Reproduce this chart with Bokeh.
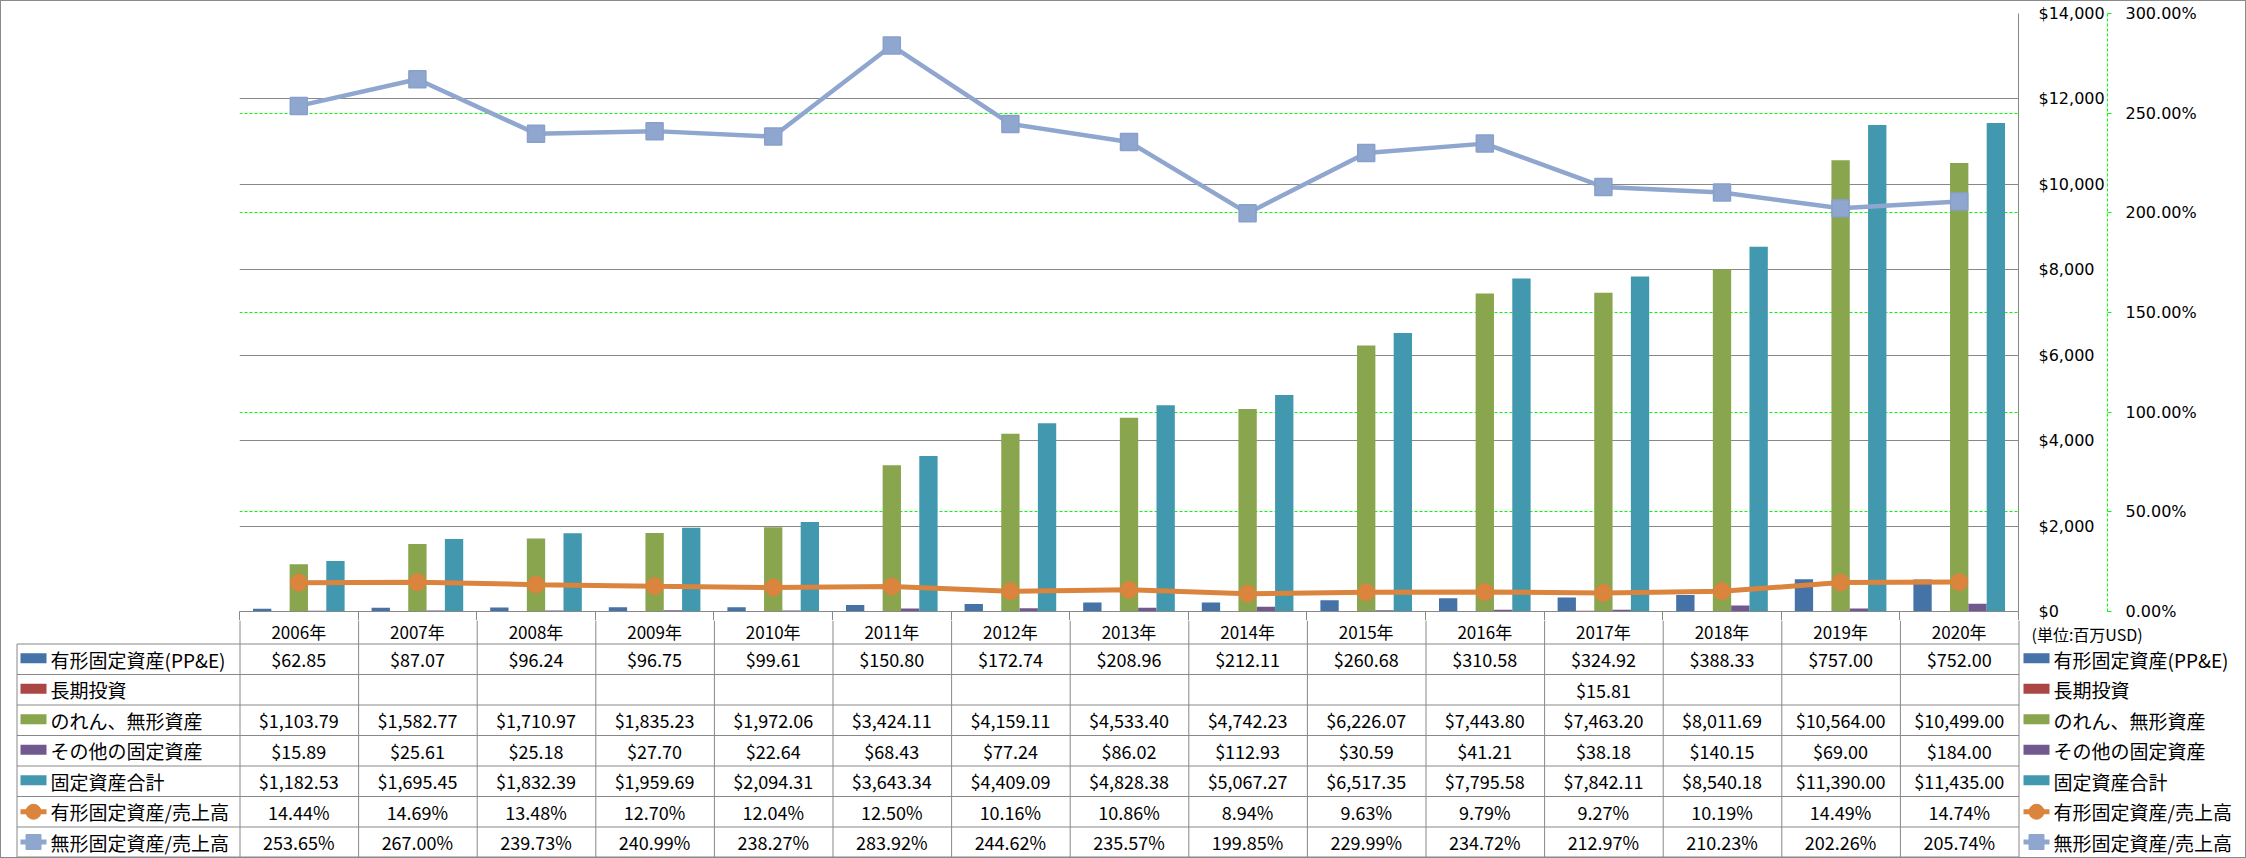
import math
from bokeh.plotting import figure
from bokeh.models import (Range1d, LinearAxis, FixedTicker,
                          NumeralTickFormatter, Grid, ColumnDataSource)
from bokeh.transform import dodge
from bokeh.layouts import column
from bokeh.embed import file_html
from bokeh.resources import INLINE
from bokeh.core.properties import value

NAN = float("nan")

# ---------------- data ----------------
years = ["2006年", "2007年", "2008年", "2009年", "2010年", "2011年", "2012年", "2013年",
         "2014年", "2015年", "2016年", "2017年", "2018年", "2019年", "2020年"]
ppe = [62.85, 87.07, 96.24, 96.75, 99.61, 150.80, 172.74, 208.96, 212.11, 260.68,
       310.58, 324.92, 388.33, 757.00, 752.00]
lt_invest = [NAN, NAN, NAN, NAN, NAN, NAN, NAN, NAN, NAN, NAN, NAN, 15.81, NAN, NAN, NAN]
goodwill = [1103.79, 1582.77, 1710.97, 1835.23, 1972.06, 3424.11, 4159.11, 4533.40,
            4742.23, 6226.07, 7443.80, 7463.20, 8011.69, 10564.00, 10499.00]
other = [15.89, 25.61, 25.18, 27.70, 22.64, 68.43, 77.24, 86.02, 112.93, 30.59,
         41.21, 38.18, 140.15, 69.00, 184.00]
total = [1182.53, 1695.45, 1832.39, 1959.69, 2094.31, 3643.34, 4409.09, 4828.38,
         5067.27, 6517.35, 7795.58, 7842.11, 8540.18, 11390.00, 11435.00]
ppe_ratio = [14.44, 14.69, 13.48, 12.70, 12.04, 12.50, 10.16, 10.86, 8.94, 9.63,
             9.79, 9.27, 10.19, 14.49, 14.74]
intang_ratio = [253.65, 267.00, 239.73, 240.99, 238.27, 283.92, 244.62, 235.57,
                199.85, 229.99, 234.72, 212.97, 210.23, 202.26, 205.74]

series_names = ["有形固定資産(PP&E)", "長期投資", "のれん、無形資産", "その他の固定資産",
                "固定資産合計", "有形固定資産/売上高", "無形固定資産/売上高"]
usd_ticks = [0, 2000, 4000, 6000, 8000, 10000, 12000, 14000]
pct_ticks = [0.0, 0.5, 1.0, 1.5, 2.0, 2.5, 3.0]
unit_text = "(単位:百万USD)"

# ---------------- style ----------------
C_PPE, C_LT, C_GW, C_OTH, C_TOT = "#4572A7", "#AA4643", "#89A54E", "#71588F", "#4198AF"
C_R1, C_R2 = "#DB843D", "#8FA6CF"
GRAY = "#888888"
GREEN = "#00FF00"
CJK = "Noto Sans CJK JP"

W = 2244
FL, FR = 238, 2017          # frame left/right (canvas px)
FT, FB = 12, 610            # frame top/bottom (canvas px)
H1 = 619                    # chart canvas height (9 px below the frame)
H2 = 856 - H1               # table canvas height
NCAT = len(years)
CW = (FR - FL) / NCAT

# category positions (centre of each category slot on a 0..N axis)
xpos = [i + 0.5 for i in range(NCAT)]

# ---------------- chart figure ----------------
p1 = figure(width=W, height=H1,
            x_range=Range1d(0, NCAT), y_range=Range1d(0, usd_ticks[-1]),
            extra_y_ranges={"pct": Range1d(0, pct_ticks[-1])},
            x_axis_location=None, y_axis_location=None,
            toolbar_location=None, output_backend="svg",
            min_border_left=FL, min_border_right=W - FR,
            min_border_top=FT, min_border_bottom=H1 - FB,
            outline_line_color=None, background_fill_color="white",
            border_fill_color="white")
p1.frame_align = False
p1.grid.visible = False

src = ColumnDataSource(dict(x=xpos, ppe=ppe, lt=lt_invest, gw=goodwill, oth=other,
                            tot=total,
                            r1=[v / 100 for v in ppe_ratio],
                            r2=[v / 100 for v in intang_ratio]))

# grids
p1.add_layout(Grid(dimension=1, ticker=FixedTicker(ticks=usd_ticks[1:]),
                   grid_line_color=GRAY, grid_line_width=1))
p1.add_layout(Grid(dimension=1, y_range_name="pct",
                   ticker=FixedTicker(ticks=pct_ticks[1:-1]),
                   grid_line_color=GREEN, grid_line_dash="3 2", grid_line_width=1))

bw = 0.1545
bars = [("ppe", C_PPE), ("lt", C_LT), ("gw", C_GW), ("oth", C_OTH), ("tot", C_TOT)]
for k, (col, colr) in enumerate(bars):
    p1.vbar(x=dodge("x", (k - 2) * bw), top=col, bottom=0,
            width=bw, source=src, fill_color=colr, line_color=None)

p1.line(x="x", y="r1", y_range_name="pct", source=src, line_color=C_R1, line_width=5)
p1.scatter(x="x", y="r1", y_range_name="pct", source=src, marker="circle", size=17,
           fill_color=C_R1, line_color=C_R1)
p1.line(x="x", y="r2", y_range_name="pct", source=src, line_color=C_R2, line_width=4.5)
p1.scatter(x="x", y="r2", y_range_name="pct", source=src, marker="square", size=17,
           fill_color=C_R2, line_color="#88A0CA", line_width=1.5)

# bottom category axis line with the (upper part of the) column dividers
xax = LinearAxis(ticker=FixedTicker(ticks=[], minor_ticks=list(range(NCAT + 1))),
                 axis_line_color=GRAY, major_tick_line_color=None,
                 major_tick_out=0, major_tick_in=0,
                 minor_tick_line_color=GRAY, minor_tick_out=H1 - FB, minor_tick_in=0,
                 major_label_standoff=0, major_label_text_font_size="0px")
p1.add_layout(xax, "below")

# right axes
ax_usd = LinearAxis(ticker=FixedTicker(ticks=usd_ticks),
                    formatter=NumeralTickFormatter(format="$0,0"),
                    axis_line_color=GRAY, major_tick_line_color=None,
                    minor_tick_line_color=None, major_tick_out=0, major_tick_in=0,
                    major_label_standoff=20,
                    major_label_text_font="DejaVu Sans", major_label_text_font_size="16px",
                    major_label_text_color="black")
p1.add_layout(ax_usd, "right")
ax_pct = LinearAxis(y_range_name="pct", ticker=FixedTicker(ticks=pct_ticks),
                    formatter=NumeralTickFormatter(format="0.00%"),
                    axis_line_color=GREEN, axis_line_dash="3 2",
                    major_tick_line_color=GREEN, major_tick_out=4, major_tick_in=0,
                    minor_tick_line_color=None, major_label_standoff=14,
                    major_label_text_font="DejaVu Sans", major_label_text_font_size="16px",
                    major_label_text_color="black")
p1.add_layout(ax_pct, "right")

# ---------------- data table figure (pixel layout, y downwards) ----------------
p2 = figure(width=W, height=H2, x_range=Range1d(0, W), y_range=Range1d(H2, 0),
            x_axis_location=None, y_axis_location=None,
            toolbar_location=None, output_backend="svg",
            min_border_left=0, min_border_right=0, min_border_top=0, min_border_bottom=0,
            outline_line_color=None, background_fill_color="white",
            border_fill_color="white")
p2.frame_align = False
p2.grid.visible = False

HDR_BOTTOM = 23.5            # bottom of the year header row
ROWH = 30.5
edges = [HDR_BOTTOM + ROWH * k for k in range(8)]
edges[-1] = H2 - 0.5
TL = 15.5
xb = [FL + 0.5 + i * CW for i in range(NCAT + 1)]
xc = [FL + (i + 0.5) * CW for i in range(NCAT)]

# horizontal lines
p2.segment(x0=[TL] * len(edges), y0=edges, x1=[xb[-1]] * len(edges), y1=edges,
           line_color=GRAY, line_width=1)
# vertical lines
p2.segment(x0=xb, y0=[0] * len(xb), x1=xb, y1=[edges[-1]] * len(xb),
           line_color=GRAY, line_width=1)
p2.segment(x0=[TL], y0=[edges[0]], x1=[TL], y1=[edges[-1]],
           line_color=GRAY, line_width=1)

# header row (years)
p2.text(x=xc, y=[11] * NCAT, text=years, text_align="center",
        text_baseline="middle", text_font=value(CJK), text_font_size=value("17px"),
        text_color="black")
# unit note under the value axis
p2.text(x=[FR + 13], y=[13], text=[unit_text], text_align="left",
        text_baseline="middle", text_font=value(CJK), text_font_size=value("16px"),
        text_color="black")


def fmt_usd(v):
    return "" if (v is None or (isinstance(v, float) and math.isnan(v))) else f"${v:,.2f}"


def fmt_pct(v):
    return f"{v:.2f}%"


rows = [[fmt_usd(v) for v in ppe], [fmt_usd(v) for v in lt_invest],
        [fmt_usd(v) for v in goodwill], [fmt_usd(v) for v in other],
        [fmt_usd(v) for v in total], [fmt_pct(v) for v in ppe_ratio],
        [fmt_pct(v) for v in intang_ratio]]
centers = [(edges[k] + edges[k + 1]) / 2 for k in range(7)]

tx, ty, tt = [], [], []
for r, vals in enumerate(rows):
    for i, s in enumerate(vals):
        tx.append(xc[i])
        ty.append(centers[r])
        tt.append(s)
p2.text(x=tx, y=ty, text=tt, text_align="center", text_baseline="middle",
        text_font=value(CJK), text_font_size=value("18px"), text_color="black")

colors = [C_PPE, C_LT, C_GW, C_OTH, C_TOT, C_R1, C_R2]
for sx0, tx0 in [(19, 49), (FR + 5, FR + 35)]:
    for k in range(5):
        p2.rect(x=sx0 + 13, y=centers[k] - 1, width=26, height=10,
                fill_color=colors[k], line_color=None)
    for k, mk in [(5, "circle"), (6, "square")]:
        p2.segment(x0=sx0, y0=centers[k], x1=sx0 + 26, y1=centers[k],
                   line_color=colors[k], line_width=5)
        p2.scatter(x=sx0 + 13, y=centers[k], marker=mk, size=15,
                   fill_color=colors[k], line_color=colors[k])
    p2.text(x=[tx0] * 7, y=centers, text=series_names, text_align="left",
            text_baseline="middle", text_font=value(CJK), text_font_size=value("19px"),
            text_color="black")

layout = column(p1, p2, styles={"border": "1px solid #8a8a8a"})
open("out.html", "w").write(file_html(layout, INLINE))
